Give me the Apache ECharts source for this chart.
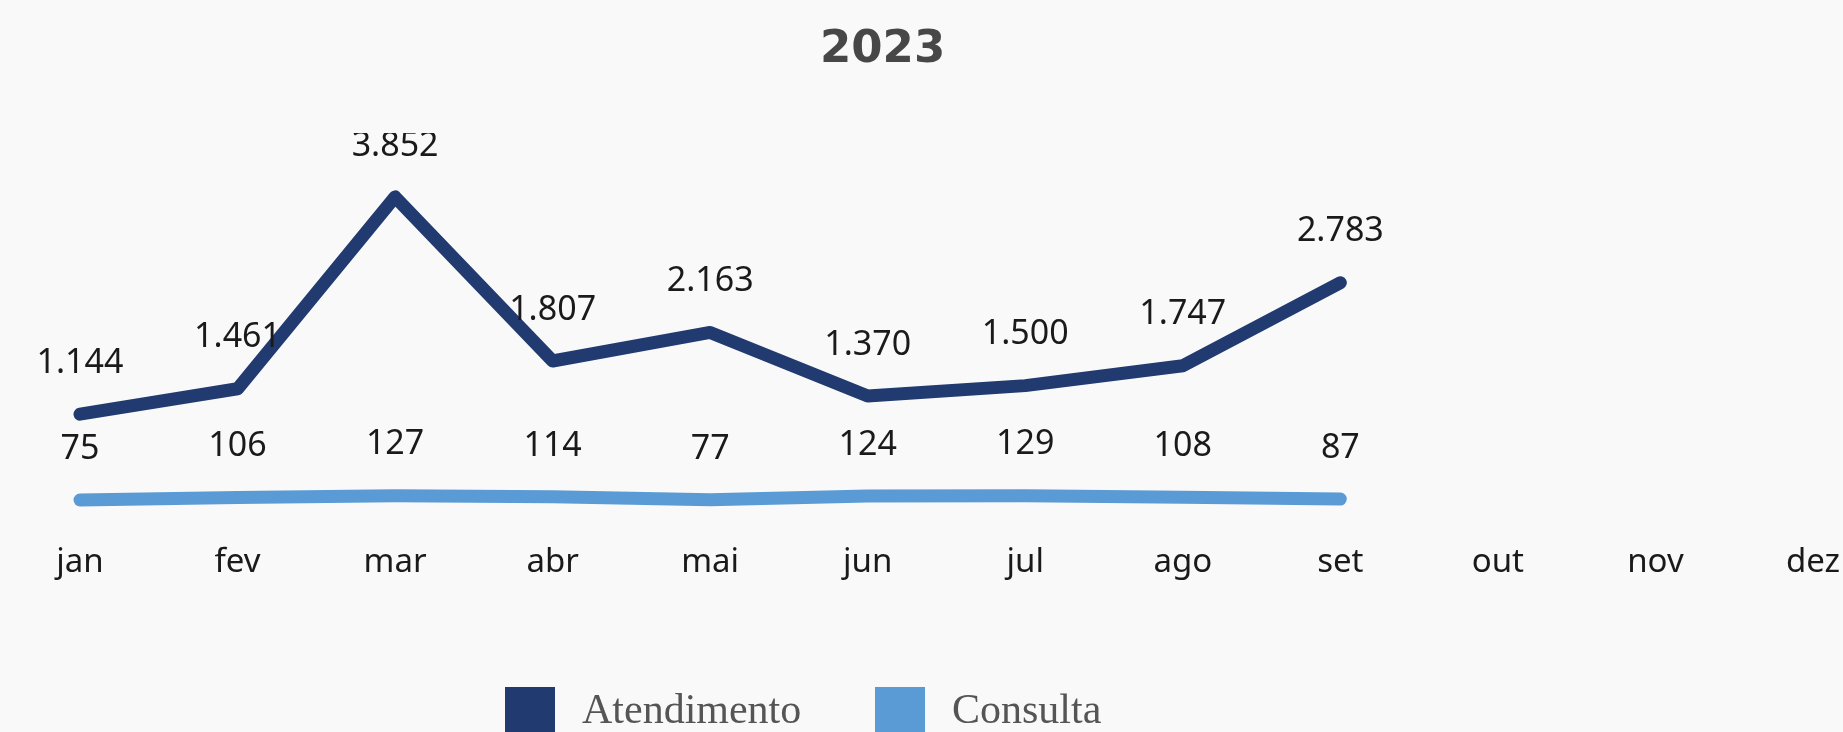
<!DOCTYPE html>
<html>
	<head>
		<meta charset="utf-8" />
		<title>2023</title>
		<script src="https://cdn.jsdelivr.net/npm/echarts@6/dist/echarts.min.js"></script>
		<style>
			html,body{margin:0;padding:0;background:#f9f9f9;}
			#main{width:1843px;height:732px;}
		</style>
	</head>
	<body>
		<div id="main"></div>
		<script>
			// dados
			var meses = ['jan', 'fev', 'mar', 'abr', 'mai', 'jun', 'jul', 'ago', 'set', 'out', 'nov', 'dez'];
			var atendimento = [1144, 1461, 3852, 1807, 2163, 1370, 1500, 1747, 2783, null, null, null];
			var consulta = [75, 106, 127, 114, 77, 124, 129, 108, 87, null, null, null];

			// 1.144 -> formato pt-BR
			function fmt(p) {
				return String(p.value).replace(/\B(?=(\d{3})+(?!\d))/g, '.');
			}

			var rotulo = {
				show: true,
				position: 'top',
				distance: 34,
				formatter: fmt,
				fontFamily: 'Noto Sans',
				fontSize: 34,
				color: '#1a1a1a'
			};
			var legendaTexto = { fontFamily: 'Liberation Serif', fontSize: 42, color: '#555', padding: [0, 0, 0, 22] };

			var mycharts = echarts.init(document.getElementById('main'));
			var option = {
				backgroundColor: '#f9f9f9',
				title: {
					text: '2023',
					left: 820,
					top: 28,
					padding: 0,
					z: 10,
					textStyle: {
						fontFamily: 'DejaVu Sans',
						fontWeight: 'bold',
						fontSize: 45,
						color: '#474747'
					}
				},
				// corta o topo do rótulo de março como na imagem original
				graphic: [{
					type: 'rect',
					z: 5,
					shape: { x: 0, y: 0, width: 1843, height: 133 },
					style: { fill: '#f9f9f9' }
				}],
				legend: [{
					data: [{ name: 'Atendimento', itemStyle: { color: '#213a6f' } }],
					left: 505,
					top: 687,
					padding: 0,
					icon: 'rect',
					itemWidth: 50,
					itemHeight: 50,
					textStyle: legendaTexto
				}, {
					data: [{ name: 'Consulta', itemStyle: { color: '#5b9bd5' } }],
					left: 875,
					top: 687,
					padding: 0,
					icon: 'rect',
					itemWidth: 50,
					itemHeight: 50,
					textStyle: legendaTexto
				}],
				grid: {
					left: 80,
					right: 28,
					top: 185,
					bottom: 226
				},
				xAxis: {
					type: 'category',
					boundaryGap: false,
					data: meses,
					axisLine: { show: false },
					axisTick: { show: false },
					axisLabel: {
						margin: 40,
						fontFamily: 'Noto Sans',
						fontSize: 33,
						color: '#1a1a1a'
					}
				},
				yAxis: {
					type: 'value',
					min: 0,
					max: 4000,
					show: false,
					splitLine: { show: false }
				},
				series: [{
					name: 'Atendimento',
					type: 'line',
					data: atendimento,
					symbol: 'circle',
					symbolSize: 0,
					z: 3,
					itemStyle: { color: '#213a6f' },
					lineStyle: { width: 13, color: '#213a6f', cap: 'round', join: 'round' },
					label: rotulo
				}, {
					name: 'Consulta',
					type: 'line',
					data: consulta,
					symbol: 'circle',
					symbolSize: 0,
					itemStyle: { color: '#5b9bd5' },
					lineStyle: { width: 13, color: '#5b9bd5', cap: 'round', join: 'round' },
					label: rotulo
				}]
			};
			mycharts.setOption(option);
		</script>
	</body>
</html>
